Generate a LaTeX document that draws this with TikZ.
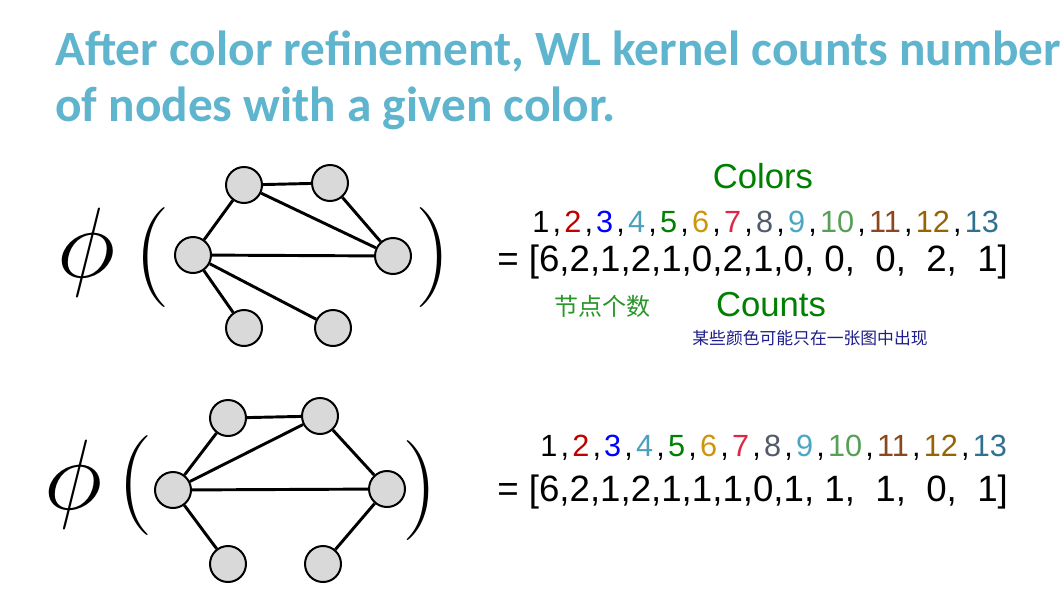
\RequirePackage{fix-cm}
\documentclass[tikz,border=0pt]{standalone}
\usepackage{fontspec}
\newfontfamily\titlefont{Carlito}
\newfontfamily\arialfont{Liberation Sans}
\newfontfamily\cjk{Noto Sans CJK SC}
\usetikzlibrary{positioning}
\definecolor{titleblue}{RGB}{95,180,206}
\definecolor{labgreen}{RGB}{0,128,0}
\definecolor{handgreen}{RGB}{40,150,40}
\definecolor{notenavy}{RGB}{30,30,140}
\definecolor{vgray}{RGB}{217,217,217}
\definecolor{c2}{RGB}{192,0,0}
\definecolor{c3}{RGB}{0,0,255}
\definecolor{c4}{RGB}{75,160,190}
\definecolor{c5}{RGB}{0,128,0}
\definecolor{c6}{RGB}{204,150,10}
\definecolor{c7}{RGB}{220,40,70}
\definecolor{c8}{RGB}{80,90,105}
\definecolor{c9}{RGB}{75,165,195}
\definecolor{c10}{RGB}{85,160,85}
\definecolor{c11}{RGB}{140,70,30}
\definecolor{c12}{RGB}{150,100,0}
\definecolor{c13}{RGB}{49,112,143}
\tikzset{
  vtx/.style={circle, draw, fill=vgray, line width=1.5pt, minimum size=27pt, inner sep=0pt},
  edg/.style={line width=2.2pt},
  bigsym/.style={inner sep=0pt, anchor=base, font=\fontsize{75}{75}\selectfont},
  ttl/.style={inner sep=0pt, anchor=base west, text=titleblue,
    font=\titlefont\bfseries\fontsize{37}{44}\selectfont},
  colrowtxt/.style={inner sep=0pt, anchor=base west, font=\arialfont\fontsize{23}{27}\selectfont},
  cntrowtxt/.style={inner sep=0pt, anchor=base west, font=\arialfont\fontsize{27.5}{32}\selectfont},
  lab/.style={inner sep=0pt, anchor=base, text=labgreen, font=\arialfont\fontsize{26}{30}\selectfont},
}
\newcommand{\csep}{\hspace{2.4pt},\hspace{2.4pt}}
\newcommand{\cn}[2]{\textcolor{#1}{#2}}
\newcommand{\colrow}{1\csep\cn{c2}{2}\csep\cn{c3}{3}\csep\cn{c4}{4}\csep\cn{c5}{5}\csep
  \cn{c6}{6}\csep\cn{c7}{7}\csep\cn{c8}{8}\csep\cn{c9}{9}\csep\cn{c10}{10}\csep
  \cn{c11}{11}\csep\cn{c12}{12}\csep\cn{c13}{13}}

\begin{document}
\begin{tikzpicture}[x=0.75pt, y=-0.75pt]
\fill[white] (0,0) rectangle (1062,593);
\useasboundingbox (0,0) rectangle (1062,593);

% ── Titel ───────────────────────────────────────────────
\node[ttl] (title1) at (55, 65) {After color refinement, WL kernel counts number};
\node[ttl] (title2) at (55, 121) {of nodes with a given color.};

% ── Graph 1 ─────────────────────────────────────────────
\node[bigsym] (phiA) at (86, 277) {$\phi$};
\node[bigsym] (lpA) at (152, 282) {(};
\node[bigsym] (rpA) at (433, 282) {)};

\node[vtx] (ul1) at (244, 185) {};
\node[vtx] (ur1) at (330, 183) {};
\node[vtx] (l1)  at (193, 255) {};
\node[vtx] (r1)  at (393, 256) {};
\node[vtx] (bl1) at (244, 328) {};
\node[vtx] (br1) at (333, 328) {};
\foreach \a/\b in {ul1/ur1, ul1/l1, ul1/r1, ur1/r1, l1/r1, l1/bl1, l1/br1}
  \draw[edg] (\a) -- (\b);

\node[lab] (colors) at (763, 188) {Colors};
\node[colrowtxt] (idxA) at (532, 232) {\colrow};
\node[cntrowtxt] (cntA) at (497, 271) {= [6,2,1,2,1,0,2,1,0, 0,\ \ 0,\ \ 2,\ \ 1]};
\node[inner sep=0pt, text=handgreen, font=\cjk\fontsize{18}{20}\selectfont] (nodecnt) at (602, 306) {节点个数};
\node[lab] (counts) at (771, 316) {Counts};
\node[inner sep=0pt, text=notenavy, font=\cjk\fontsize{12.6}{14}\selectfont] (note) at (810, 338) {某些颜色可能只在一张图中出现};

% ── Graph 2 ─────────────────────────────────────────────
\node[bigsym] (phiB) at (73, 509) {$\phi$};
\node[bigsym] (lpB) at (135, 510) {(};
\node[bigsym] (rpB) at (420, 515) {)};

\node[vtx] (ul2) at (228, 418) {};
\node[vtx] (ur2) at (320, 416) {};
\node[vtx] (l2)  at (173, 490) {};
\node[vtx] (r2)  at (387, 489) {};
\node[vtx] (bl2) at (228, 564) {};
\node[vtx] (br2) at (323, 564) {};
\foreach \a/\b in {ul2/ur2, ul2/l2, ur2/l2, ur2/r2, l2/r2, l2/bl2, r2/br2}
  \draw[edg] (\a) -- (\b);

\node[colrowtxt] (idxB) at (540, 456) {\colrow};
\node[cntrowtxt] (cntB) at (497, 501) {= [6,2,1,2,1,1,1,0,1, 1,\ \ 1,\ \ 0,\ \ 1]};

\end{tikzpicture}
\end{document}
